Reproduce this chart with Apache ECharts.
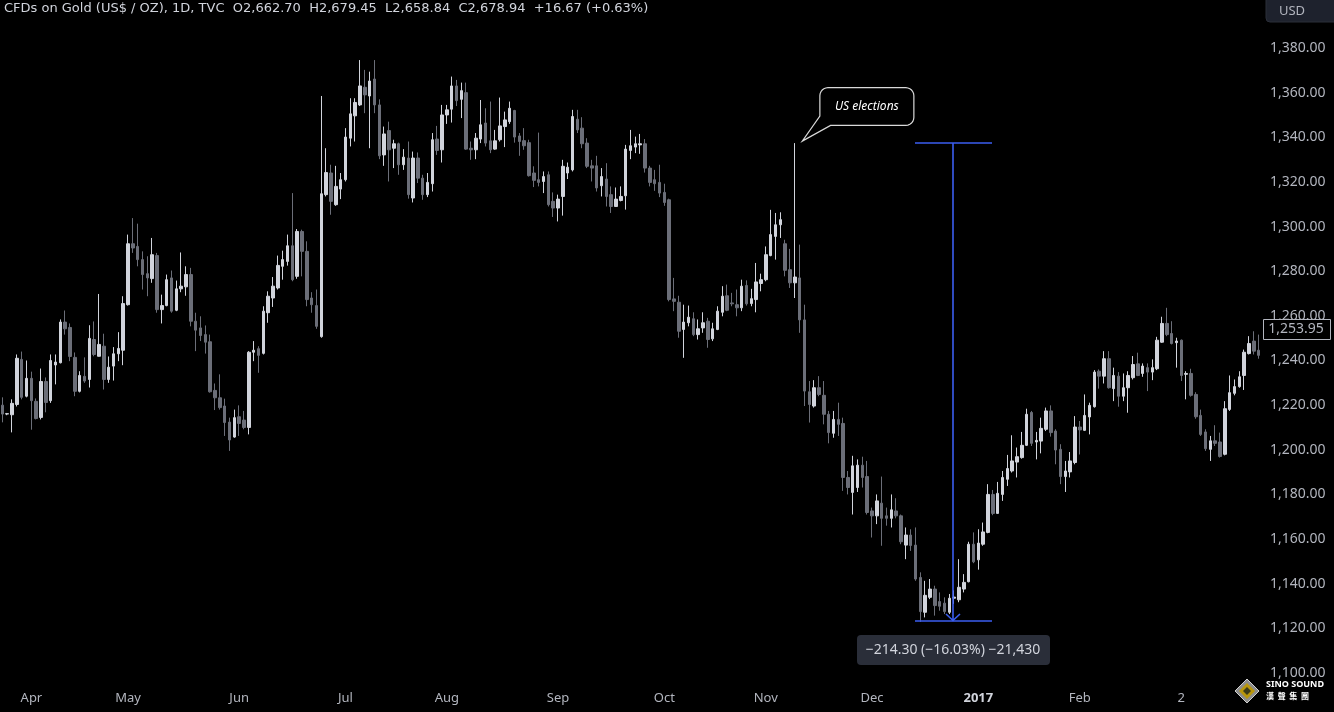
<!DOCTYPE html>
<html>
<head>
<meta charset="utf-8">
<script src="https://cdn.jsdelivr.net/npm/echarts@6/dist/echarts.min.js"></script>
<style>
html,body{margin:0;padding:0;background:#000;}
#c{width:1334px;height:712px;}
</style>
</head>
<body>
<div id="c"></div>
<script>
// ---- DATA ----
const opens = [1220,1216,1215.7,1220.3,1240.5,1224,1232,1221.7,1214.5,1230.6,
1222,1238,1239,1257.2,1254.8,1241.4,1226.2,1232.9,1231.5,1249.4,
1241.9,1246.4,1231.5,1237.5,1243,1244.6,1265,1292.3,1291.1,1285.2,
1278.9,1276.7,1287,1262.8,1264.6,1277,1262.5,1272.1,1273,1278.5,
1257.6,1254.6,1251.6,1248.4,1226.6,1223.3,1219.6,1212.4,1205.7,1214.8,
1213.3,1210,1243.7,1245.3,1243.2,1261.4,1268,1272.5,1282.2,1284.4,
1291.4,1277.7,1297.8,1288.9,1268,1264.6,1250.7,1314.3,1324,1309.8,
1316.8,1321,1339.6,1349.6,1354.5,1362.4,1358.5,1366.1,1354.5,1332.1,
1343,1335.1,1337.1,1327.7,1330.7,1312.8,1330.7,1321.7,1314.3,1319.2,
1339.2,1334.4,1350,1352.6,1363,1357,1360,1335.1,1334.4,1339.2,
1346.4,1338.4,1334.7,1338.9,1344.8,1347,1352,1340.6,1338.5,1337.6,
1324,1321,1320.2,1323.2,1311.3,1308.3,1313.5,1324,1325.4,1348.1,
1344.1,1337.4,1327.2,1327.2,1318.3,1321.3,1314.3,1309,1311.7,1313.8,
1334.1,1335.6,1336.6,1337.1,1326.2,1321,1319.8,1315.3,1312,1267.6,
1266.1,1253.9,1256.9,1258.7,1251.6,1254.6,1257.6,1249.7,1253.9,1261.6,
1269,1265.8,1265,1263.6,1273.6,1265.5,1267.3,1274.5,1276.2,1287,
1295.6,1300.8,1292.3,1280.7,1274.8,1277,1258.2,1226,1219.6,1227.8,
1224.4,1215.9,1207.4,1213.6,1211.8,1187.6,1180.9,1183.1,1193.1,1188,
1172.6,1170.4,1176.1,1170.4,1169.3,1172.6,1170.4,1157.3,1161.8,1157.3,
1142.8,1127.2,1133.9,1137.6,1132,1131.3,1127.2,1133.5,1132.8,1137.6,
1140.9,1157.7,1150.7,1157.7,1163,1180,1171.5,1180,1186.8,1190.5,
1194.5,1196.5,1202,1216.7,1203.5,1203.9,1209.2,1217.4,1208.4,1200.2,
1188,1190.1,1194.3,1210.2,1208.7,1214.7,1219.3,1235.2,1233,1240.8,
1227.4,1233,1224,1227.8,1232.3,1238.5,1234.2,1236.8,1234.8,1236.3,
1248.2,1256.6,1252.1,1248,1249.1,1233.8,1234.2,1224.8,1215.4,1208,
1200.2,1204,1203.5,1198,1218.1,1225.3,1228.3,1233.3,1243.1,1248.7,
1244.6];
const closes = [1216,1216.2,1220.8,1241,1223.5,1232,1222,1214,1230.6,1221.2,
1240,1239.3,1257.2,1254.2,1241.8,1226.2,1233.3,1230.8,1249.9,1242.7,
1247.2,1231.5,1237,1243,1245.4,1265.5,1292.3,1290.4,1285.2,1278.5,
1277,1287.4,1262.8,1264.6,1276.2,1262.1,1272.1,1273.3,1278.5,1257.6,
1253.6,1251.2,1248.2,1226,1223.3,1218.9,1212.2,1204.4,1214.4,1211.8,
1210,1243.7,1244.6,1242.3,1262.1,1268.8,1273.3,1282.6,1285.2,1291.4,
1276.2,1297.8,1288.9,1267.3,1265,1255.3,1314.7,1324.2,1311.3,1318,
1321,1340.1,1350.5,1355.6,1363,1359,1365.2,1354.5,1331.7,1341.5,
1334.4,1337.1,1327.7,1331.1,1314.3,1330.7,1321.7,1314.3,1319.8,1338.9,
1334.1,1350,1352.3,1363,1356.4,1360.9,1334.7,1334.4,1339.6,1345.6,
1337.4,1334.4,1338.4,1345.1,1347.8,1353,1340.1,1338.1,1336.2,1322.8,
1320.7,1319.8,1322.4,1309.8,1308.3,1312.3,1327,1326.6,1349.3,1343.3,
1337.1,1327,1326.2,1317.3,1322.4,1313.5,1309,1312.3,1313.5,1334.7,
1336.2,1337.1,1337.1,1326.2,1319.8,1319.2,1315,1310.8,1267.3,1266.5,
1253.1,1257.2,1259.4,1251.6,1254.2,1256.9,1249.4,1254.2,1262.1,1268.8,
1262.5,1265.4,1263.6,1273.3,1265.4,1267.7,1275.2,1276.2,1287.4,1296.4,
1300.8,1303.1,1280.4,1274.8,1277.4,1258.2,1226.3,1220.3,1227.8,1224.8,
1215.9,1207.7,1213.6,1211.4,1187.6,1183.1,1192.8,1193.1,1187.6,1171.9,
1170.4,1177.1,1169.3,1169.3,1173.1,1170.4,1158.8,1161.8,1157.1,1142.1,
1127.5,1134.8,1137.6,1130.2,1129.9,1127.5,1133.5,1134,1138.4,1140.6,
1157.7,1149.8,1158.2,1163.2,1180,1171.5,1180.5,1187.6,1191.6,1195,
1196.9,1202,1215.9,1202.9,1204.2,1209.6,1217.4,1207.7,1199.9,1188,
1190.5,1195,1210.2,1208.9,1215.4,1219.9,1234.8,1233,1240.8,1227.8,
1233.3,1224,1227.8,1233.3,1238.2,1233.3,1237.5,1234.8,1236.8,1249.1,
1256.6,1251.6,1247.6,1248.7,1233.3,1234.2,1224.4,1214.8,1206.9,1200.5,
1204,1202.9,1197,1218.4,1225.6,1228.3,1232.7,1243.7,1247.6,1244.2,
1242.3];
const highs = [1223.5,1216.5,1222.6,1242.7,1244,1240,1235,1223,1236.4,1232.4,
1242.7,1242.7,1258.4,1262.4,1256.6,1243.6,1235.2,1241.4,1255.8,1257.5,
1269.8,1252,1241.8,1246,1252.7,1268.8,1296.4,1303.8,1301.3,1288.9,
1286.7,1294.9,1288.2,1269.5,1278.5,1280.3,1275.8,1288.4,1282.2,1281.5,
1261.4,1259.8,1255.7,1251.6,1229.7,1233.8,1222.9,1214.4,1218,1219.9,
1217.4,1244.2,1248.7,1246.4,1264.3,1271,1277.4,1287,1289.2,1296.4,
1315,1298.9,1298.6,1293.4,1270.6,1271.8,1358.5,1335.1,1327.7,1327.2,
1324,1344.1,1357.5,1357.5,1374.6,1370.2,1369.4,1374.6,1357,1344.8,
1347,1338.9,1337.6,1334.7,1338.1,1333.6,1333.2,1323.2,1324,1341.9,
1345.1,1354.5,1354.5,1367.2,1365.7,1364.5,1364.5,1338.1,1341.9,1356.7,
1353,1356,1343.3,1357.8,1351.5,1356,1352.3,1341.9,1344.1,1338.9,
1327,1342.1,1324.7,1324.7,1315.3,1314.3,1329.9,1328.7,1352.3,1352.3,
1349,1339.6,1329.9,1331.7,1326.2,1328.4,1318,1317.5,1318,1336.6,
1343.3,1340.3,1341.5,1339.2,1327.2,1325.4,1327.7,1319.2,1312.5,1277,
1269,1265,1264.6,1261.6,1258.4,1261.6,1259.1,1256.9,1264.3,1273.3,
1274,1270.3,1271.8,1276.2,1275.9,1272.1,1283.7,1278.9,1291.1,1307.5,
1306.1,1306.4,1294.1,1290,1337.4,1291.9,1265,1230.8,1231.2,1233,
1230.8,1217.4,1217.4,1221.1,1214.4,1190.5,1197.3,1195.7,1196.9,1195,
1174.1,1180,1188,1174.1,1180,1178.3,1171,1165.2,1164.4,1165.2,
1145.1,1141.3,1142.1,1139.1,1136.1,1133.9,1135.4,1137,1151,1144.3,
1158.8,1163,1164.4,1167.4,1184.6,1182,1185.6,1190.5,1197.7,1206.5,
1201,1208,1218.4,1217.4,1208,1214.4,1218.9,1219.9,1209.2,1202.5,
1195,1199,1215.1,1212.9,1224.8,1221.1,1235.7,1236,1244.2,1244.2,
1236.8,1234.8,1234.2,1235.2,1242,1243.5,1238.7,1238.7,1240.5,1250.6,
1259.6,1263.6,1257.6,1250.2,1249.4,1235.2,1236.3,1225.8,1218,1209.2,
1206.2,1211,1207.7,1221.8,1233.3,1231.5,1235.2,1244.9,1250.9,1253.1,
1251.6];
const lows = [1212.3,1215.5,1207.8,1219.4,1222.6,1223.5,1209,1213.6,1213.6,1216.8,
1221,1229.3,1238.7,1251.6,1239.7,1224,1225.7,1230,1227.9,1241.9,
1241.8,1227,1230,1231,1239.7,1237.9,1264.6,1288.2,1282.2,1271.8,
1268.8,1274.8,1261.4,1256.6,1264.3,1261.4,1262.1,1270.6,1269,1255.3,
1244.2,1248.7,1243.1,1225.6,1217.8,1218,1206.2,1199.5,1205.4,1206.2,
1209.2,1206.9,1239.7,1234.5,1242.7,1256.9,1264,1271.8,1276.2,1282.5,
1275.5,1276.6,1277.7,1264.3,1261.4,1254.2,1250.2,1313.5,1305.3,1309.3,
1312.3,1320.2,1335.9,1338.1,1354,1350.8,1335.1,1350.8,1330.2,1327.2,
1320.2,1326.2,1323.2,1325.4,1312.5,1310.8,1319.5,1312,1313.2,1315.7,
1332.1,1328.7,1346,1346.6,1354,1348.6,1334.4,1329.9,1330.2,1337.4,
1335.9,1332.9,1334.4,1338.1,1335.6,1346,1337.6,1331.7,1334.4,1322.4,
1317.7,1318,1315,1309,1304.3,1302.3,1304.9,1321.3,1324.7,1341.9,
1335.1,1326.2,1320.2,1315.7,1313.5,1309,1306.1,1308.8,1311.3,1307.6,
1330.2,1332.9,1332.6,1324.2,1318,1316,1313.2,1309.3,1266.5,1262.1,
1250.2,1241.2,1255.3,1250.9,1249.4,1252.4,1245.7,1248.7,1253.6,1259.8,
1262.1,1264.3,1259.8,1262.1,1264.6,1264.3,1261.6,1271,1275.5,1286.7,
1285.2,1294.9,1277.7,1272.5,1268,1252.4,1219.6,1212.2,1218.9,1224,
1211.4,1202.9,1205.4,1206.2,1181.6,1180,1171,1181.1,1183.1,1171,
1160.7,1166.7,1157,1166,1165.2,1169.3,1157.7,1151,1154.7,1141.3,
1122.9,1124.9,1133.1,1125.7,1127.9,1126.4,1126.4,1131,1131.7,1136.1,
1140.6,1149.2,1146.3,1157,1162.6,1170.7,1171.5,1177.1,1183.8,1189.8,
1187.6,1196,1201.7,1201.7,1195.7,1198.4,1208.4,1205.9,1193.5,1184.6,
1181.1,1187.6,1193.5,1197.9,1208.4,1206.9,1218.9,1227.4,1229.7,1227.4,
1221.8,1219.3,1221.8,1216.6,1231.5,1233,1232.7,1226.3,1231.2,1235.7,
1247.9,1250.9,1247.2,1236.8,1230.8,1222.6,1223.8,1213.9,1206.2,1199.5,
1195,1201.7,1196.5,1197.5,1217.4,1224.4,1227.8,1226.8,1242.7,1242.7,
1240.8];

// x-axis tick labels (bar index of the labelled day, text)
const tickIndex = [6, 26, 49, 71, 92, 115, 137, 158, 180, 202, 223, 244];
const tickText  = ['Apr','May','Jun','Jul','Aug','Sep','Oct','Nov','Dec','2017','Feb','2'];

// annotations
const electionBar = 164;
const electionText = 'US elections';
const measureStartBar = 188.8, measureEndBar = 204.9;
const measureTop = 1337.38, measureBottom = 1123.08;
const measureLabel = '\u2212214.30 (\u221216.03%) \u221221,430';
const lastPriceLabel = 1253.95;
const headerText = 'CFDs on Gold (US$ / OZ), 1D, TVC  O2,662.70  H2,679.45  L2,658.84  C2,678.94  +16.67 (+0.63%)';

// ---- CHART ----
const categories = opens.map((_, i) => String(i));
const candleData = opens.map((o, i) => [o, closes[i], lows[i], highs[i]]);
const tickMap = {};
tickIndex.forEach((ix, k) => { tickMap[ix] = tickText[k]; });

const FONT = 'Noto Sans';
const chart = echarts.init(document.getElementById('c'), null, {renderer: 'canvas'});

const option = {
  backgroundColor: '#000000',
  animation: false,
  grid: {left: 0, right: 73, top: 48, bottom: 39, containLabel: false},
  xAxis: {
    type: 'category',
    data: categories,
    boundaryGap: true,
    axisLine: {show: false},
    axisTick: {show: false},
    splitLine: {show: false},
    axisLabel: {
      interval: function (idx) { return tickMap[idx] !== undefined; },
      formatter: function (v, idx) {
        const t = tickMap[idx];
        if (t === undefined) return '';
        return t === '2017' ? '{b|2017}' : t;
      },
      color: '#b2b5be',
      fontFamily: FONT,
      fontSize: 13,
      margin: 19,
      rich: {b: {fontWeight: 'bold', color: '#d1d4dc', fontSize: 13, fontFamily: FONT}}
    }
  },
  yAxis: {
    type: 'value',
    position: 'right',
    min: 1100,
    max: 1380,
    interval: 20,
    scale: true,
    axisLine: {show: false},
    axisTick: {show: false},
    splitLine: {show: false},
    axisLabel: {
      color: '#b2b5be',
      fontFamily: FONT,
      fontSize: 14,
      margin: 9,
      formatter: function (v) {
        return v.toLocaleString('en-US', {minimumFractionDigits: 2, maximumFractionDigits: 2});
      }
    }
  },
  series: [{
    type: 'candlestick',
    data: candleData,
    barWidth: 3,
    itemStyle: {
      color: '#d1d4dc',
      color0: '#6b6e78',
      borderColor: '#d1d4dc',
      borderColor0: '#6b6e78',
      borderWidth: 1
    }
  }]
};
chart.setOption(option);

// ---- OVERLAYS (positions from the chart's own scales) ----
function px(barIndex, price) {
  const i0 = Math.floor(barIndex);
  const a = chart.convertToPixel({gridIndex: 0}, [i0, price]);
  const b = chart.convertToPixel({gridIndex: 0}, [i0 + 1, price]);
  const f = barIndex - i0;
  return [a[0] + (b[0] - a[0]) * f, a[1]];
}
function arcPts(cx, cy, r, a0, a1) {
  const pts = [];
  for (let k = 0; k <= 6; k++) {
    const a = a0 + (a1 - a0) * k / 6;
    pts.push([cx + r * Math.cos(a), cy + r * Math.sin(a)]);
  }
  return pts;
}

const g = [];
// header
g.push({type: 'text', left: 4, top: 2, z: 100,
  style: {text: headerText, fill: '#d1d4dc', font: '13px "DejaVu Sans"'}});
// USD box
g.push({type: 'rect', shape: {x: 1266, y: -4, width: 72, height: 26, r: 4}, z: 100,
  style: {fill: '#1e222d', stroke: '#2a2e39'}});
g.push({type: 'text', x: 1292, y: 11, z: 101,
  style: {text: 'USD', fill: '#b2b5be', font: '13px "' + FONT + '"', align: 'center', verticalAlign: 'middle'}});

// last price label on the axis
const lp = px(0, lastPriceLabel);
g.push({type: 'rect', shape: {x: 1263.5, y: Math.round(lp[1] - 10) + 0.5, width: 67, height: 20}, z: 100,
  style: {fill: '#000', stroke: '#b2b5be', lineWidth: 1}});
g.push({type: 'text', x: 1296, y: lp[1], z: 101,
  style: {text: lastPriceLabel.toLocaleString('en-US', {minimumFractionDigits: 2}), fill: '#b2b5be',
    font: '14px "' + FONT + '"', align: 'center', verticalAlign: 'middle'}});

// US elections speech bubble
const tip0 = px(electionBar, highs[electionBar]);
const tx = tip0[0] + 7.5, ty = tip0[1] - 2;
const L = tx + 17.6, R = tx + 111.6, T = ty - 53.4, B = ty - 15.7, r = 8;
const PI = Math.PI;
let bubble = [];
bubble = bubble.concat(arcPts(L + r, T + r, r, PI, 1.5 * PI));
bubble = bubble.concat(arcPts(R - r, T + r, r, 1.5 * PI, 2 * PI));
bubble = bubble.concat(arcPts(R - r, B - r, r, 0, 0.5 * PI));
bubble.push([L + 10.7, B]);
bubble.push([tx, ty]);
bubble.push([L, B - 9.3]);
g.push({type: 'polygon', z: 90, shape: {points: bubble},
  style: {fill: '#000', stroke: '#d9d9d9', lineWidth: 1.2}});
g.push({type: 'text', x: (L + R) / 2, y: (T + B) / 2, z: 91,
  style: {text: electionText, fill: '#ffffff', font: 'italic 12px "' + FONT + '"',
    align: 'center', verticalAlign: 'middle'}});

// price range measurement
const blue = '#3b5ef0';
const LW = 1.6;
const tl = px(measureStartBar, measureTop), tr = px(measureEndBar, measureTop);
const bl = px(measureStartBar, measureBottom), br = px(measureEndBar, measureBottom);
const midBar = (measureStartBar + measureEndBar) / 2;
const mt = px(midBar, measureTop), mb = px(midBar, measureBottom);
const vx = Math.round(mt[0]), yTop = Math.round(tl[1]), yBot = Math.round(bl[1]);
g.push({type: 'line', z: 80, shape: {x1: Math.round(tl[0]), y1: yTop, x2: Math.round(tr[0]), y2: yTop}, style: {stroke: blue, lineWidth: LW}});
g.push({type: 'line', z: 80, shape: {x1: Math.round(bl[0]), y1: yBot, x2: Math.round(br[0]), y2: yBot}, style: {stroke: blue, lineWidth: LW}});
g.push({type: 'line', z: 80, shape: {x1: vx, y1: yTop, x2: vx, y2: yBot}, style: {stroke: blue, lineWidth: LW}});
g.push({type: 'polyline', z: 80, shape: {points: [[vx - 7, yBot - 7], [vx, yBot - 0.5], [vx + 7, yBot - 7]]},
  style: {stroke: blue, lineWidth: LW, fill: null}});
// label box
const boxW = 193, boxH = 30;
g.push({type: 'rect', z: 85, shape: {x: Math.round(vx - boxW / 2), y: Math.round(yBot + 14), width: boxW, height: boxH, r: 4},
  style: {fill: '#2a2e39'}});
g.push({type: 'text', z: 86, x: vx, y: yBot + 14 + boxH / 2,
  style: {text: measureLabel, fill: '#d1d4dc', font: '14px "' + FONT + '"', align: 'center', verticalAlign: 'middle'}});

// logo (bottom right)
const cx = 1247, cy = 691;
g.push({type: 'polygon', z: 100, shape: {points: [[cx, cy - 12], [cx + 12, cy], [cx, cy + 12], [cx - 12, cy]]},
  style: {fill: '#8c8c8c', stroke: '#d0d0d0', lineWidth: 1}});
g.push({type: 'polygon', z: 101, shape: {points: [[cx, cy - 8], [cx + 8, cy], [cx, cy + 8], [cx - 8, cy]]},
  style: {fill: '#b8960c'}});
g.push({type: 'polygon', z: 102, shape: {points: [[cx, cy - 4], [cx + 4, cy], [cx, cy + 4], [cx - 4, cy]]},
  style: {fill: '#3a3a1a'}});
g.push({type: 'text', z: 100, x: 1266, y: 684,
  style: {text: 'SINO SOUND', fill: '#ffffff', font: 'bold 9px "' + FONT + '"', verticalAlign: 'middle'}});
g.push({type: 'text', z: 100, x: 1266, y: 696,
  style: {text: '漢  聲  集  團', fill: '#ffffff', font: 'bold 8px "Noto Sans CJK TC"', verticalAlign: 'middle'}});

chart.setOption({graphic: g});
</script>
</body>
</html>
